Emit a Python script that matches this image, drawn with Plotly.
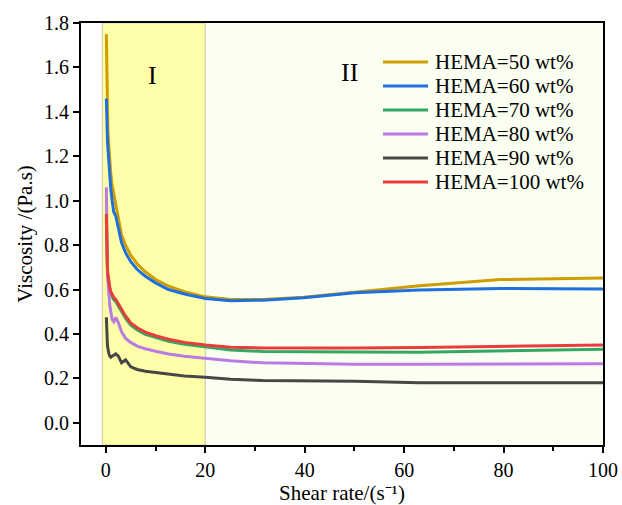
import plotly.graph_objects as go

shear_rate = [0.1, 0.126, 0.158, 0.2, 0.251, 0.316, 0.398, 0.501, 0.631, 0.794,
              1.0, 1.26, 1.58, 2.0, 2.51, 3.16, 3.98, 5.01, 6.31, 7.94,
              10.0, 12.6, 15.8, 20.0, 25.1, 31.6, 39.8, 50.1, 63.1, 79.4, 100.0]

hema50 = [1.75, 1.68, 1.60, 1.52, 1.45, 1.39, 1.33, 1.28, 1.23, 1.17,
          1.12, 1.07, 1.03, 0.98, 0.91, 0.845, 0.80, 0.755, 0.715, 0.68,
          0.645, 0.615, 0.59, 0.567, 0.555, 0.555, 0.565, 0.588, 0.617, 0.645, 0.652]
hema60 = [1.46, 1.42, 1.38, 1.34, 1.30, 1.27, 1.24, 1.20, 1.15, 1.10,
          1.05, 1.00, 0.95, 0.93, 0.87, 0.81, 0.765, 0.725, 0.69, 0.66,
          0.63, 0.60, 0.58, 0.56, 0.55, 0.552, 0.563, 0.585, 0.598, 0.605, 0.602]
hema70 = [0.92, 0.86, 0.80, 0.75, 0.71, 0.68, 0.66, 0.64, 0.62, 0.60,
          0.58, 0.565, 0.555, 0.545, 0.525, 0.50, 0.47, 0.44, 0.418, 0.398,
          0.383, 0.367, 0.353, 0.342, 0.328, 0.321, 0.319, 0.319, 0.318, 0.323, 0.331]
hema80 = [1.06, 0.98, 0.90, 0.82, 0.75, 0.69, 0.64, 0.60, 0.56, 0.53,
          0.50, 0.465, 0.455, 0.475, 0.45, 0.41, 0.38, 0.362, 0.345, 0.333,
          0.322, 0.31, 0.30, 0.29, 0.279, 0.27, 0.266, 0.264, 0.264, 0.265, 0.266]
hema90 = [0.475, 0.44, 0.41, 0.385, 0.365, 0.35, 0.335, 0.32, 0.31, 0.30,
          0.295, 0.30, 0.305, 0.31, 0.30, 0.27, 0.283, 0.252, 0.24, 0.232,
          0.226, 0.218, 0.211, 0.205, 0.196, 0.19, 0.188, 0.187, 0.18, 0.18, 0.18]
hema100 = [0.94, 0.88, 0.82, 0.77, 0.73, 0.70, 0.67, 0.65, 0.63, 0.61,
           0.59, 0.575, 0.565, 0.555, 0.535, 0.51, 0.48, 0.45, 0.428, 0.408,
           0.392, 0.376, 0.362, 0.35, 0.34, 0.337, 0.336, 0.337, 0.339, 0.343, 0.35]

series_names = ["HEMA=50 wt%", "HEMA=60 wt%", "HEMA=70 wt%",
                "HEMA=80 wt%", "HEMA=90 wt%", "HEMA=100 wt%"]
series_values = [hema50, hema60, hema70, hema80, hema90, hema100]
colors = ["#CF9D00", "#1F70DD", "#34A862", "#B77BE3", "#474747", "#EA3C3C"]

x_ticks = [0, 20, 40, 60, 80, 100]
x_minor_ticks = [10, 30, 50, 70, 90]
y_ticks = [0.0, 0.2, 0.4, 0.6, 0.8, 1.0, 1.2, 1.4, 1.6, 1.8]
y_ticklabels = ["0.0", "0.2", "0.4", "0.6", "0.8", "1.0", "1.2", "1.4", "1.6", "1.8"]

font_family = "Liberation Serif"

fig = go.Figure()
for name, vals, col in zip(series_names, series_values, colors):
    fig.add_trace(go.Scatter(x=shear_rate, y=vals, mode="lines", name=name,
                             line=dict(color=col, width=3), showlegend=False))

# region shading
fig.add_shape(type="rect", xref="x", yref="paper", x0=20, x1=100, y0=0, y1=1,
              fillcolor="#FAFFF2", line=dict(width=0), layer="below")
fig.add_shape(type="rect", xref="x", yref="paper", x0=-0.7, x1=20, y0=0, y1=1,
              fillcolor="#FFFFAA", line=dict(color="#CFCFB0", width=1.2), layer="below")

fig.add_annotation(x=9.3, y=1.565, text="I", showarrow=False,
                   font=dict(family=font_family, size=26, color="black"))
fig.add_annotation(x=49.1, y=1.575, text="II", showarrow=False,
                   font=dict(family=font_family, size=26, color="black"))

# manual legend (paper coordinates of the plot area: 81..603 x, 23..445 y)
pw, ph = 522.0, 422.0
row_px = [62, 86, 110, 134, 158, 182]
for name, col, py in zip(series_names, colors, row_px):
    yp = (445 - py) / ph
    fig.add_shape(type="line", xref="paper", yref="paper",
                  x0=(383 - 81) / pw, x1=(428 - 81) / pw, y0=yp, y1=yp,
                  line=dict(color=col, width=3))
    fig.add_annotation(xref="paper", yref="paper", x=(433 - 81) / pw, y=yp,
                       xanchor="left", yanchor="middle", text=name, showarrow=False,
                       font=dict(family=font_family, size=21, color="black"))

fig.update_layout(
    width=622, height=505,
    margin=dict(l=81, r=19, t=23, b=60),
    paper_bgcolor="white", plot_bgcolor="white",
    font=dict(family=font_family, size=20, color="black"),
    showlegend=False,
)
fig.update_xaxes(range=[-5, 100], tickmode="array", tickvals=x_ticks,
                 tickfont=dict(family=font_family, size=20, color="black"),
                 ticks="outside", ticklen=6, tickwidth=1.5, tickcolor="black",
                 minor=dict(tickvals=x_minor_ticks, ticks="outside", ticklen=4,
                            tickwidth=1.5, tickcolor="black"),
                 showline=True, linecolor="black", linewidth=2, mirror=True,
                 showgrid=False, zeroline=False, automargin=False,
                 title=dict(text="Shear rate/(s⁻¹)",
                            font=dict(family=font_family, size=21), standoff=4))
fig.update_yaxes(range=[-0.1, 1.8], tickmode="array", tickvals=y_ticks,
                 ticktext=y_ticklabels,
                 tickfont=dict(family=font_family, size=20, color="black"),
                 ticks="outside", ticklen=6, tickwidth=1.5, tickcolor="black",
                 showline=True, linecolor="black", linewidth=2, mirror=True,
                 showgrid=False, zeroline=False, automargin=False,
                 title=dict(text="Viscosity /(Pa.s)",
                            font=dict(family=font_family, size=21), standoff=6))

fig.write_html("out.html",
               config={"displayModeBar": False},
               post_script="document.body.style.margin='0px';document.body.style.overflow='hidden';")
